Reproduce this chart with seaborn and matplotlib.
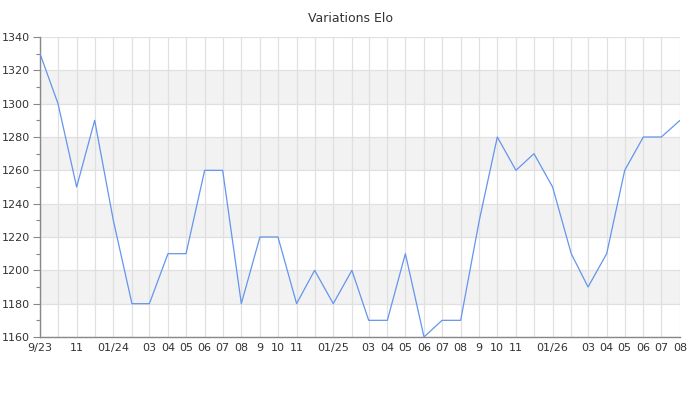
import pandas as pd
import matplotlib
matplotlib.use("Agg")
import matplotlib.pyplot as plt
from matplotlib.ticker import MultipleLocator
import seaborn as sns

# Données : un point par mois, de 09/2023 à 08/2026
mois = [
    "2023-09", "2023-10", "2023-11", "2023-12",
    "2024-01", "2024-02", "2024-03", "2024-04", "2024-05", "2024-06",
    "2024-07", "2024-08", "2024-09", "2024-10", "2024-11", "2024-12",
    "2025-01", "2025-02", "2025-03", "2025-04", "2025-05", "2025-06",
    "2025-07", "2025-08", "2025-09", "2025-10", "2025-11", "2025-12",
    "2026-01", "2026-02", "2026-03", "2026-04", "2026-05", "2026-06",
    "2026-07", "2026-08",
]
elo = [
    1330, 1300, 1250, 1290,
    1230, 1180, 1180, 1210, 1210, 1260,
    1260, 1180, 1220, 1220, 1180, 1200,
    1180, 1200, 1170, 1170, 1210, 1160,
    1170, 1170, 1230, 1280, 1260, 1270,
    1250, 1210, 1190, 1210, 1260, 1280,
    1280, 1290,
]
etiquettes = [
    "9/23", "", "11", "",
    "01/24", "", "03", "04", "05", "06",
    "07", "08", "9", "10", "11", "",
    "01/25", "", "03", "04", "05", "06",
    "07", "08", "9", "10", "11", "",
    "01/26", "", "03", "04", "05", "06",
    "07", "08",
]

df = pd.DataFrame({"mois": pd.to_datetime(mois), "elo": elo})

sns.set_theme(style="white")
plt.rcParams["font.family"] = ["DejaVu Sans"]

fig = plt.figure(figsize=(7, 4), dpi=100)
ax = fig.add_axes([40 / 700, 1 - 337 / 400, 640 / 700, 300 / 400])

# Bandes grises alternées
for bas in [1180, 1220, 1260, 1300]:
    ax.axhspan(bas, bas + 20, color="#f2f2f2", zorder=0, lw=0)

sns.lineplot(data=df, x="mois", y="elo", ax=ax, color="#6495ed", lw=0.9, zorder=3)

ax.set_xlim(df["mois"].iloc[0], df["mois"].iloc[-1])
ax.set_ylim(1160, 1340)
ax.set_xticks(df["mois"])
ax.set_xticklabels(etiquettes)
ax.yaxis.set_major_locator(MultipleLocator(20))
ax.yaxis.set_minor_locator(MultipleLocator(10))

ax.grid(True, which="major", color="#e0e0e0", lw=0.9, zorder=1)
ax.set_axisbelow(True)

for cote in ["top", "right"]:
    ax.spines[cote].set_visible(False)
for cote in ["left", "bottom"]:
    ax.spines[cote].set_color("#888888")
    ax.spines[cote].set_linewidth(1)

ax.tick_params(axis="y", which="major", length=5, width=0.8, color="#888888",
               labelsize=8, labelcolor="#333333", pad=2, left=True)
ax.tick_params(axis="y", which="minor", length=3, width=0.8, color="#888888", left=True)
ax.tick_params(axis="x", length=0, labelsize=8, labelcolor="#333333", pad=4)

ax.set_xlabel("")
ax.set_ylabel("")
fig.suptitle("Variations Elo", y=1 - 12 / 400, fontsize=9, color="#333333")

fig.savefig("out.png", dpi=100)
